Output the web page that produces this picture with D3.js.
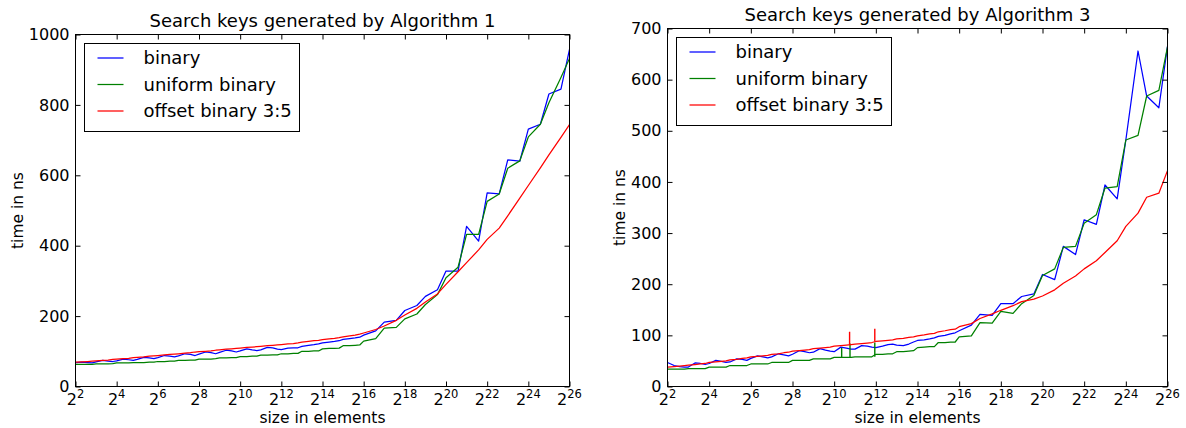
<!DOCTYPE html>
<html><head><meta charset="utf-8">
<script src="https://cdn.jsdelivr.net/npm/d3@7"></script>
<style>
body{margin:0;background:#fff;}
svg{display:block;font-family:"DejaVu Sans",sans-serif;}
</style></head><body>
<svg id="chart" width="1186" height="428"></svg>
<script>
// x positions as log2(size)
const exps = [
 2,2.32,2.585,2.81, 3,3.32,3.585,3.81, 4,4.32,4.585,4.81, 5,5.32,5.585,5.81,
 6,6.32,6.585,6.81, 7,7.32,7.585,7.81, 8,8.32,8.585,8.81, 9,9.32,9.585,9.81,
 10,10.32,10.585,10.81, 11,11.32,11.585,11.81, 12,12.32,12.585,12.81,
 13,13.32,13.585,13.81, 14,14.32,14.585,14.81, 15,15.32,15.585,15.81,
 16,16.585,17,17.585,18,18.585,19,19.585,20,20.585,21,21.585,22,22.585,
 23,23.585,24,24.585,25,25.585,26];
const xTickExps = [2,4,6,8,10,12,14,16,18,20,22,24,26];
const seriesNames = ["binary","uniform binary","offset binary 3:5"];

// Algorithm 1 panel
const alg1Binary = [
 68,69,68,67, 70,74,72,71, 73,78,76,74, 77,83,81,79, 82,88,86,84, 87,93,91,88,
 92,98,96,93, 97,103,101,98, 101,107,104,102, 104,111,110,106, 105,109,110,110,
 114,117,119,121, 124,126,128,130, 134,136,138,140,
 146,158,183,188,216,230,256,275,328,328,455,413,550,547,644,640,731,745,831,845,958];
const alg1Uniform = [
 63,63,63,63, 64,64,64,65, 67,67,67,68, 68,68,69,69, 71,71,72,72, 74,74,75,75,
 78,78,78,79, 81,81,82,82, 85,85,86,86, 89,89,90,90, 93,93,94,94,
 100,100,101,101, 107,108,108,109, 116,116,117,118,
 129,136,166,168,192,206,233,261,309,339,432,432,526,547,620,641,709,745,806,878,932];
const alg1Offset = [
 69,70,71,72, 73,74,75,77, 78,79,80,82, 83,84,86,87, 88,90,91,92, 93,95,96,98,
 99,100,101,103, 104,106,107,108, 109,111,112,113, 114,116,117,118, 119,121,122,124,
 126,128,130,131, 133,135,137,139, 141,144,146,149,
 152,162,172,188,203,222,240,263,290,326,352,388,418,450,485,535,571,621,658,708,744];
const alg1YTicks = [0,200,400,600,800,1000];

// Algorithm 3 panel
const alg3Binary = [
 47,41,39,38, 38,46,45,43, 45,51,49,47, 48,54,53,51, 55,60,58,56, 58,64,62,60,
 63,70,68,66, 67,74,71,69, 68,77,75,73, 73,80,79,77, 76,79,82,83,
 81,80,83,87, 90,91,93,95, 98,100,103,105,
 109,120,141,139,162,162,176,181,219,209,274,258,326,317,394,367,482,656,568,545,665];
const alg3Uniform = [
 34,34,34,34, 35,35,35,35, 38,38,38,38, 41,41,41,41, 44,44,44,44, 47,47,47,47,
 51,51,51,51, 54,54,54,54, 57,57,57,57, 58,58,58,58, 63,63,64,64,
 68,68,69,70, 76,77,78,78, 86,86,87,87,
 97,99,125,124,147,143,162,178,217,230,272,274,319,336,388,391,482,491,568,579,664];
const alg3Offset = [
 38,39,40,41, 42,43,44,45, 47,48,49,50, 52,53,55,56, 58,59,60,61, 63,64,66,67,
 69,70,71,72, 74,75,76,77, 79,80,81,82, 83,84,85,86, 88,89,90,91,
 93,94,96,97, 99,101,103,104, 107,109,111,112,
 117,123,133,142,149,158,166,171,177,189,202,216,230,246,262,285,313,339,370,378,422];
const alg3YTicks = [0,100,200,300,400,500,600,700];
// short vertical spikes in the Algorithm 3 panel
const alg3UniformSpikeExp = [10.36, 10.76, 11.95];
const alg3UniformSpikeLow = [57, 57, 58];
const alg3UniformSpikeHigh = [76, 84, 86];
const alg3OffsetSpikeExp = [10.74, 11.95];
const alg3OffsetSpikeLow = [82, 88];
const alg3OffsetSpikeHigh = [107, 113];

const colors = ["#0000ff", "#008000", "#ff0000"];
const svg = d3.select("#chart");

function panel(cfg){
  const {left,right,top,bottom,yMax,yTicks,title,values,spikes} = cfg;
  const x = d3.scaleLog().base(2).domain([2**2, 2**26]).range([left,right]);
  const y = d3.scaleLinear().domain([0,yMax]).range([bottom,top]);
  const g = svg.append("g");
  const clipId = "clip" + Math.round(left);
  g.append("clipPath").attr("id",clipId).append("rect")
    .attr("x",left).attr("y",top).attr("width",right-left).attr("height",bottom-top);
  const plot = g.append("g").attr("clip-path",`url(#${clipId})`);
  const line = d3.line().x(d=>x(d[0])).y(d=>y(d[1]));
  values.forEach((vals,si)=>{
    plot.append("path")
      .datum(exps.map((e,i)=>[2**e, vals[i]]))
      .attr("d",line).attr("fill","none")
      .attr("stroke",colors[si]).attr("stroke-width",1.25)
      .attr("stroke-linejoin","round");
    (spikes[si]||[]).forEach(sp=>{
      plot.append("line")
        .attr("x1",x(2**sp[0])).attr("x2",x(2**sp[0]))
        .attr("y1",y(sp[1])).attr("y2",y(sp[2]))
        .attr("stroke",colors[si]).attr("stroke-width",1.4);
    });
  });
  const xt = xTickExps.map(e=>2**e);
  const ax = [
    g.append("g").attr("transform",`translate(0,${bottom})`)
      .call(d3.axisBottom(x).tickValues(xt).tickFormat("").tickSizeInner(-5).tickSizeOuter(0)),
    g.append("g").attr("transform",`translate(0,${top})`)
      .call(d3.axisTop(x).tickValues(xt).tickFormat("").tickSizeInner(-5).tickSizeOuter(0)),
    g.append("g").attr("transform",`translate(${left},0)`)
      .call(d3.axisLeft(y).tickValues(yTicks).tickFormat(d3.format("d")).tickSizeInner(-5).tickSizeOuter(0).tickPadding(6)),
    g.append("g").attr("transform",`translate(${right},0)`)
      .call(d3.axisRight(y).tickValues(yTicks).tickFormat("").tickSizeInner(-5).tickSizeOuter(0))
  ];
  ax.forEach(a=>{
    a.select(".domain").remove();
    a.selectAll(".tick line").attr("stroke","#000").attr("stroke-width",1);
  });
  ax[2].selectAll("text").attr("font-size",16).attr("font-family","DejaVu Sans").attr("fill","#000");
  let minX = left;
  ax[2].selectAll("text").each(function(){
    const b = this.getBBox();
    minX = Math.min(minX, left + b.x);
  });
  // bottom tick labels 2^k
  xTickExps.forEach(e=>{
    const t = g.append("text").attr("x",x(2**e)).attr("y",bottom+18)
      .attr("text-anchor","middle").attr("font-size",16).attr("fill","#000");
    t.append("tspan").text("2");
    t.append("tspan").attr("dy",-7).attr("font-size",11.5).text(e);
  });
  g.append("rect").attr("x",left).attr("y",top).attr("width",right-left).attr("height",bottom-top)
    .attr("fill","none").attr("stroke","#000").attr("stroke-width",1);
  g.append("text").attr("x",(left+right)/2).attr("y",top-8).attr("text-anchor","middle")
    .attr("font-size",18).text(title);
  g.append("text").attr("x",(left+right)/2).attr("y",423).attr("text-anchor","middle")
    .attr("font-size",15.5).text("size in elements");
  g.append("text").attr("transform",`translate(${minX-6},${(top+bottom)/2}) rotate(-90)`)
    .attr("text-anchor","middle").attr("font-size",15.5).text("time in ns");
  // legend
  const lg = g.append("g").attr("transform",`translate(${left+9},${top+9})`);
  lg.append("rect").attr("x",0).attr("y",0).attr("width",215).attr("height",88)
    .attr("fill","#fff").attr("stroke","#000").attr("stroke-width",1);
  seriesNames.forEach((n,i)=>{
    const yy = 14.5 + i*26.5;
    lg.append("line").attr("x1",13).attr("x2",39).attr("y1",yy).attr("y2",yy)
      .attr("stroke",colors[i]).attr("stroke-width",1.25);
    lg.append("text").attr("x",59).attr("y",yy).attr("dy","0.35em")
      .attr("font-size",18).text(n);
  });
}

panel({left:75.5,right:569.5,top:34.5,bottom:386.5,yMax:1000,yTicks:alg1YTicks,
  title:"Search keys generated by Algorithm 1",
  values:[alg1Binary,alg1Uniform,alg1Offset], spikes:[]});
panel({left:667.5,right:1167.5,top:28.5,bottom:386.5,yMax:700,yTicks:alg3YTicks,
  title:"Search keys generated by Algorithm 3",
  values:[alg3Binary,alg3Uniform,alg3Offset],
  spikes:[[],
    alg3UniformSpikeExp.map((e,i)=>[e,alg3UniformSpikeLow[i],alg3UniformSpikeHigh[i]]),
    alg3OffsetSpikeExp.map((e,i)=>[e,alg3OffsetSpikeLow[i],alg3OffsetSpikeHigh[i]])]});
</script>
</body></html>
